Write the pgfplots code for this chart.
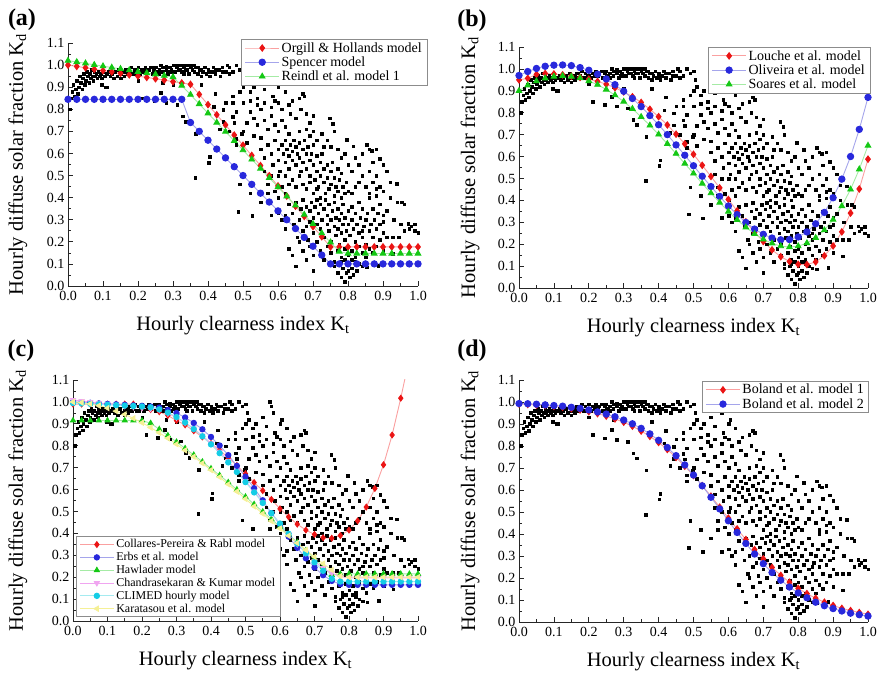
\documentclass[border=0pt]{standalone}
\usepackage{fontspec}
\setmainfont{Liberation Serif}
\usepackage{pgfplots}
\usepackage{pgfplotstable}
\pgfplotsset{compat=1.18}

\definecolor{mred}{RGB}{235,20,20}
\definecolor{mredl}{RGB}{250,160,160}
\definecolor{mblue}{RGB}{40,40,220}
\definecolor{mbluel}{RGB}{165,165,235}
\definecolor{mgreen}{RGB}{20,200,20}
\definecolor{mgreenl}{RGB}{165,235,165}
\definecolor{mmag}{RGB}{215,20,215}
\definecolor{mmagl}{RGB}{240,165,240}
\definecolor{mcyan}{RGB}{20,205,230}
\definecolor{mcyanl}{RGB}{165,235,240}
\definecolor{myel}{RGB}{235,225,0}
\definecolor{myell}{RGB}{245,240,150}

% measured points (same set in all four panels)
\pgfplotstableread[row sep=\\]{
x y\\
0.005 0.80\\0.008 0.85\\0.012 0.88\\0.015 0.91\\0.018 0.86\\0.022 0.89\\0.025 0.93\\0.028 0.87\\0.030 0.90\\0.033 0.95\\
0.036 0.92\\0.040 0.89\\0.042 0.94\\0.045 0.96\\0.048 0.91\\0.050 0.93\\0.053 0.97\\0.056 0.95\\0.060 0.92\\0.062 0.96\\
0.065 0.94\\0.068 0.98\\0.070 0.95\\0.072 0.93\\0.075 0.97\\0.078 0.95\\0.080 0.96\\0.083 0.94\\0.086 0.97\\0.090 0.95\\
0.093 0.96\\0.096 0.94\\0.100 0.97\\0.104 0.95\\0.108 0.90\\0.110 0.96\\0.115 0.97\\0.120 0.95\\0.125 0.96\\0.130 0.94\\
0.135 0.97\\0.140 0.95\\0.145 0.98\\0.150 0.96\\0.155 0.97\\0.160 0.95\\0.165 0.98\\0.170 0.96\\0.175 0.97\\0.180 0.99\\
0.185 0.96\\0.190 0.98\\0.195 0.97\\0.200 0.99\\0.205 0.96\\0.210 0.98\\0.215 0.97\\0.220 0.99\\0.225 0.97\\0.230 0.98\\
0.235 0.99\\0.240 0.96\\0.245 0.98\\0.250 0.99\\0.255 0.97\\0.260 0.98\\0.265 1.00\\0.270 0.97\\0.275 0.99\\0.280 0.98\\
0.285 0.96\\0.290 0.99\\0.295 0.98\\0.300 1.00\\0.305 0.97\\0.310 0.99\\0.315 0.98\\0.320 1.00\\0.325 0.97\\0.330 0.99\\
0.335 0.98\\0.340 1.00\\0.345 0.96\\0.350 0.99\\0.355 0.98\\0.360 0.97\\0.365 0.99\\0.370 0.96\\0.375 0.98\\0.380 0.95\\
0.385 0.97\\0.390 0.99\\0.395 0.96\\0.400 0.98\\0.405 0.95\\0.410 0.97\\0.415 0.99\\0.420 0.96\\0.430 0.98\\0.435 0.95\\
0.440 0.99\\0.450 0.97\\0.455 1.00\\0.460 0.96\\0.160 0.97\\0.190 0.96\\0.220 0.98\\0.250 0.97\\0.270 0.99\\0.300 0.97\\
0.320 0.98\\0.330 0.96\\0.340 0.98\\0.360 1.00\\0.380 0.98\\0.400 0.97\\0.420 0.98\\0.440 0.97\\0.280 0.995\\0.310 1.00\\
0.350 1.00\\0.370 0.99\\0.240 0.99\\0.200 0.97\\0.170 0.98\\0.260 0.96\\0.290 0.97\\0.330 1.00\\
0.097 0.91\\0.112 0.90\\0.150 0.94\\0.200 0.93\\0.212 0.85\\0.246 0.836\\0.265 0.874\\0.270 0.92\\0.280 0.829\\0.300 0.91\\
0.312 0.82\\0.327 0.768\\0.337 0.745\\0.364 0.69\\0.363 0.489\\0.380 0.91\\0.402 0.558\\0.404 0.584\\0.416 0.812\\0.420 0.87\\
0.433 0.71\\0.443 0.743\\0.443 0.797\\0.450 0.83\\0.471 0.766\\0.470 0.86\\0.481 0.668\\0.486 0.337\\0.490 0.46\\0.526 0.319\\
0.497 0.69\\0.500 0.90\\0.580 0.32\\0.600 0.33\\
0.460 0.99\\0.470 0.97\\0.480 1.00\\0.490 0.98\\0.500 0.99\\0.505 0.95\\0.510 0.92\\0.520 0.88\\0.530 0.90\\0.540 0.85\\
0.550 0.93\\0.560 0.89\\0.570 1.00\\0.575 0.98\\0.580 0.95\\0.585 0.86\\0.590 0.84\\0.600 0.83\\0.605 0.92\\0.610 0.80\\
0.620 0.88\\0.630 0.82\\0.635 0.78\\0.640 0.84\\0.650 0.76\\0.660 0.85\\0.665 0.80\\0.670 0.87\\0.675 0.86\\0.680 0.78\\
0.690 0.74\\0.700 0.77\\0.500 0.83\\0.520 0.79\\0.530 0.76\\0.540 0.73\\0.550 0.80\\0.560 0.75\\0.570 0.71\\0.580 0.77\\
0.590 0.73\\0.600 0.70\\0.610 0.75\\0.620 0.72\\0.630 0.69\\0.470 0.83\\0.480 0.79\\0.490 0.88\\0.510 0.74\\0.520 0.84\\
0.540 0.82\\0.560 0.83\\0.580 0.81\\0.600 0.90\\0.475 0.74\\0.500 0.70\\0.530 0.68\\0.550 0.67\\0.510 0.65\\0.460 0.70\\
0.480 0.64\\
0.550 0.62\\0.560 0.58\\0.570 0.64\\0.580 0.60\\0.585 0.55\\0.590 0.66\\0.600 0.62\\0.600 0.57\\0.605 0.52\\0.610 0.64\\
0.615 0.60\\0.620 0.66\\0.620 0.56\\0.625 0.62\\0.630 0.59\\0.630 0.53\\0.635 0.64\\0.640 0.61\\0.640 0.57\\0.645 0.66\\
0.650 0.63\\0.650 0.55\\0.655 0.60\\0.660 0.65\\0.660 0.58\\0.665 0.52\\0.670 0.62\\0.670 0.56\\0.675 0.66\\0.680 0.60\\
0.680 0.53\\0.685 0.63\\0.690 0.57\\0.690 0.50\\0.695 0.60\\0.700 0.64\\0.700 0.55\\0.705 0.48\\0.710 0.59\\0.710 0.52\\
0.715 0.45\\0.720 0.56\\0.720 0.50\\0.725 0.60\\0.730 0.47\\0.730 0.53\\0.735 0.42\\0.740 0.55\\0.740 0.49\\0.745 0.44\\
0.750 0.52\\0.750 0.46\\0.755 0.56\\0.760 0.41\\0.760 0.49\\0.765 0.45\\0.770 0.53\\0.770 0.43\\0.775 0.48\\0.780 0.40\\
0.780 0.51\\0.785 0.45\\0.790 0.42\\0.795 0.47\\0.800 0.43\\0.640 0.48\\0.650 0.45\\0.660 0.50\\0.670 0.46\\0.680 0.44\\
0.690 0.47\\0.700 0.42\\0.710 0.44\\0.720 0.40\\0.620 0.50\\0.630 0.46\\0.610 0.45\\0.600 0.50\\0.580 0.50\\0.570 0.46\\
0.560 0.52\\0.590 0.43\\0.600 0.40\\0.620 0.42\\0.725 0.69\\0.740 0.66\\0.750 0.63\\0.760 0.70\\0.770 0.62\\0.780 0.58\\
0.790 0.60\\0.700 0.70\\0.710 0.66\\0.730 0.63\\0.690 0.68\\0.660 0.70\\0.680 0.71\\0.748 0.76\\0.757 0.735\\0.800 0.55\\
0.810 0.52\\0.820 0.58\\0.550 0.38\\0.570 0.42\\0.520 0.42\\0.620 0.32\\
0.630 0.37\\0.640 0.33\\0.645 0.28\\0.650 0.38\\0.655 0.22\\0.660 0.30\\0.665 0.35\\0.670 0.25\\0.670 0.39\\0.675 0.32\\
0.680 0.27\\0.680 0.36\\0.685 0.21\\0.690 0.34\\0.690 0.29\\0.695 0.38\\0.700 0.31\\0.700 0.24\\0.705 0.36\\0.710 0.28\\
0.710 0.39\\0.715 0.33\\0.720 0.26\\0.720 0.37\\0.725 0.30\\0.730 0.22\\0.730 0.35\\0.735 0.39\\0.740 0.28\\0.740 0.32\\
0.745 0.25\\0.745 0.37\\0.750 0.30\\0.750 0.20\\0.755 0.34\\0.760 0.27\\0.760 0.38\\0.765 0.23\\0.765 0.31\\0.770 0.35\\
0.770 0.26\\0.775 0.19\\0.775 0.30\\0.780 0.33\\0.780 0.24\\0.785 0.28\\0.785 0.37\\0.790 0.21\\0.790 0.31\\0.795 0.25\\
0.800 0.34\\0.800 0.28\\0.800 0.18\\0.805 0.23\\0.810 0.30\\0.810 0.36\\0.815 0.26\\0.820 0.20\\0.820 0.33\\0.825 0.28\\
0.830 0.24\\0.830 0.38\\0.835 0.31\\0.840 0.22\\0.840 0.35\\0.845 0.27\\0.850 0.30\\0.850 0.19\\0.855 0.33\\0.860 0.25\\
0.860 0.40\\0.865 0.28\\0.870 0.22\\0.870 0.35\\0.875 0.30\\0.880 0.26\\0.880 0.41\\0.885 0.33\\0.890 0.21\\0.890 0.37\\
0.900 0.29\\0.900 0.24\\0.610 0.30\\0.620 0.26\\0.630 0.17\\0.640 0.14\\0.650 0.09\\0.660 0.20\\0.670 0.16\\0.680 0.12\\
0.690 0.18\\0.700 0.14\\0.700 0.07\\0.710 0.20\\0.720 0.16\\0.730 0.12\\0.740 0.18\\0.750 0.15\\0.760 0.11\\0.770 0.16\\
0.780 0.13\\0.790 0.17\\0.800 0.14\\0.810 0.16\\0.820 0.13\\0.830 0.18\\0.840 0.15\\0.850 0.13\\0.860 0.17\\0.870 0.15\\
0.880 0.18\\
0.760 0.09\\0.770 0.06\\0.775 0.10\\0.780 0.04\\0.785 0.08\\0.790 0.02\\0.795 0.06\\0.800 0.10\\0.805 0.04\\0.810 0.08\\
0.815 0.05\\0.820 0.11\\0.825 0.07\\0.790 0.12\\0.800 0.07\\0.810 0.12\\0.830 0.10\\0.840 0.09\\0.780 0.11\\
0.796 0.662\\0.815 0.632\\0.853 0.64\\0.867 0.612\\0.840 0.60\\0.830 0.55\\0.860 0.52\\0.870 0.56\\0.880 0.50\\0.891 0.577\\
0.900 0.55\\0.910 0.52\\0.920 0.47\\0.939 0.464\\0.900 0.43\\0.920 0.40\\0.940 0.38\\0.953 0.38\\0.960 0.37\\0.972 0.282\\
0.980 0.27\\0.990 0.28\\1.000 0.24\\0.950 0.28\\0.960 0.25\\0.930 0.30\\0.910 0.34\\0.944 0.22\\0.927 0.22\\0.890 0.45\\
0.870 0.47\\0.850 0.45\\0.840 0.50\\0.830 0.47\\0.860 0.42\\0.880 0.44\\0.820 0.45\\0.810 0.42\\0.910 0.22\\0.900 0.32\\
0.890 0.28\\0.928 0.145\\0.886 0.092\\0.853 0.085\\0.975 0.26\\0.990 0.25\\0.840 0.25\\0.900 0.16\\0.860 0.62\\0.880 0.62\\
}\scat

% model curves, Kt step 0.025
\pgfplotstableread[row sep=\\]{
x oh sp re\\
0 1.000 0.845 1.020\\ 0.025 0.994 0.845 1.014\\ 0.05 0.988 0.845 1.008\\ 0.075 0.981 0.845 1.001\\
0.1 0.975 0.845 0.995\\ 0.125 0.969 0.845 0.989\\ 0.15 0.963 0.845 0.983\\ 0.175 0.956 0.845 0.977\\
0.2 0.950 0.845 0.970\\ 0.225 0.944 0.845 0.964\\ 0.25 0.938 0.845 0.958\\ 0.275 0.932 0.845 0.952\\
0.3 0.925 0.845 0.946\\ 0.325 0.919 0.845 0.907\\ 0.35 0.913 0.740 0.866\\ 0.375 0.867 0.700 0.824\\
0.4 0.821 0.660 0.782\\ 0.425 0.775 0.620 0.740\\ 0.45 0.729 0.580 0.699\\ 0.475 0.683 0.540 0.657\\
0.5 0.637 0.500 0.615\\ 0.525 0.591 0.460 0.573\\ 0.55 0.545 0.420 0.532\\ 0.575 0.499 0.380 0.490\\
0.6 0.453 0.340 0.448\\ 0.625 0.407 0.300 0.406\\ 0.65 0.361 0.260 0.365\\ 0.675 0.315 0.220 0.323\\
0.7 0.269 0.180 0.281\\ 0.725 0.223 0.140 0.239\\ 0.75 0.177 0.100 0.198\\ 0.775 0.177 0.100 0.156\\
0.8 0.177 0.100 0.147\\ 0.825 0.177 0.100 0.147\\ 0.85 0.177 0.100 0.147\\ 0.875 0.177 0.100 0.147\\
0.9 0.177 0.100 0.147\\ 0.925 0.177 0.100 0.147\\ 0.95 0.177 0.100 0.147\\ 0.975 0.177 0.100 0.147\\
1.0 0.177 0.100 0.147\\
}\dataA

\pgfplotstableread[row sep=\\]{
x lo ol so\\
0 0.950 0.970 0.900\\ 0.025 0.957 0.988 0.925\\ 0.05 0.975 1.002 0.944\\ 0.075 0.979 1.012 0.957\\
0.1 0.977 1.017 0.965\\ 0.125 0.973 1.018 0.968\\ 0.15 0.967 1.015 0.965\\ 0.175 0.961 1.006 0.958\\
0.2 0.953 0.994 0.945\\ 0.225 0.943 0.976 0.928\\ 0.25 0.930 0.954 0.906\\ 0.275 0.914 0.928 0.880\\
0.3 0.895 0.898 0.851\\ 0.325 0.873 0.865 0.818\\ 0.35 0.847 0.828 0.781\\ 0.375 0.816 0.787 0.742\\
0.4 0.782 0.745 0.701\\ 0.425 0.744 0.700 0.658\\ 0.45 0.702 0.653 0.613\\ 0.475 0.658 0.606 0.568\\
0.5 0.610 0.558 0.523\\ 0.525 0.560 0.510 0.477\\ 0.55 0.509 0.463 0.433\\ 0.575 0.457 0.418 0.390\\
0.6 0.404 0.374 0.349\\ 0.625 0.352 0.335 0.311\\ 0.65 0.302 0.299 0.277\\ 0.675 0.255 0.269 0.247\\
0.7 0.212 0.245 0.222\\ 0.725 0.174 0.228 0.204\\ 0.75 0.143 0.220 0.191\\ 0.775 0.121 0.221 0.187\\
0.8 0.108 0.233 0.191\\ 0.825 0.107 0.256 0.205\\ 0.85 0.119 0.293 0.229\\ 0.875 0.147 0.345 0.264\\
0.9 0.192 0.412 0.312\\ 0.925 0.256 0.497 0.374\\ 0.95 0.342 0.600 0.450\\ 0.975 0.452 0.724 0.542\\
1.0 0.588 0.870 0.650\\
}\dataB

\pgfplotstableread[row sep=\\]{
x cp er ha ch cl ka\\
0 0.990 1.000 0.915 1.009 0.995 1.000\\ 0.025 0.990 0.998 0.915 1.004 0.993 0.997\\
0.05 0.990 0.996 0.915 1.000 0.991 0.991\\ 0.075 0.990 0.993 0.915 0.995 0.989 0.983\\
0.1 0.990 0.991 0.915 0.991 0.987 0.972\\ 0.125 0.990 0.989 0.915 0.986 0.985 0.958\\
0.15 0.990 0.987 0.915 0.982 0.983 0.943\\ 0.175 0.990 0.984 0.915 0.977 0.981 0.925\\
0.2 0.975 0.982 0.915 0.973 0.979 0.905\\ 0.225 0.965 0.979 0.903 0.969 0.975 0.883\\
0.25 0.955 0.974 0.875 0.964 0.966 0.859\\ 0.275 0.938 0.963 0.847 0.948 0.951 0.834\\
0.3 0.915 0.949 0.817 0.929 0.931 0.807\\ 0.325 0.895 0.929 0.788 0.905 0.906 0.779\\
0.35 0.868 0.904 0.758 0.878 0.876 0.750\\ 0.375 0.840 0.875 0.727 0.846 0.843 0.720\\
0.4 0.810 0.840 0.696 0.811 0.806 0.689\\ 0.425 0.780 0.801 0.665 0.773 0.766 0.657\\
0.45 0.745 0.757 0.633 0.730 0.724 0.624\\ 0.475 0.710 0.708 0.600 0.685 0.680 0.591\\
0.5 0.672 0.659 0.567 0.639 0.634 0.557\\ 0.525 0.632 0.606 0.533 0.591 0.587 0.523\\
0.55 0.595 0.551 0.499 0.542 0.539 0.490\\ 0.575 0.555 0.492 0.465 0.493 0.492 0.456\\
0.6 0.512 0.440 0.430 0.444 0.445 0.422\\ 0.625 0.475 0.385 0.395 0.396 0.398 0.389\\
0.65 0.442 0.334 0.359 0.351 0.353 0.356\\ 0.675 0.415 0.286 0.322 0.310 0.309 0.324\\
0.7 0.395 0.244 0.285 0.273 0.268 0.293\\ 0.725 0.380 0.209 0.248 0.242 0.229 0.262\\
0.75 0.378 0.183 0.210 0.218 0.193 0.233\\ 0.775 0.390 0.168 0.215 0.202 0.180 0.205\\
0.8 0.415 0.165 0.215 0.197 0.180 0.200\\ 0.825 0.457 0.165 0.215 0.197 0.180 0.200\\
0.85 0.520 0.165 0.215 0.197 0.180 0.200\\ 0.875 0.605 0.165 0.215 0.197 0.180 0.200\\
0.9 0.713 0.165 0.215 0.197 0.180 0.200\\ 0.925 0.849 0.165 0.215 0.197 0.180 0.200\\
0.95 1.017 0.165 0.215 0.197 0.180 0.200\\ 0.975 1.200 0.165 0.215 0.197 0.180 0.200\\
1.0 nan 0.165 0.215 0.197 0.180 0.200\\
}\dataC

\pgfplotstableread[row sep=\\]{
x ba bb\\
0 0.991 0.993\\ 0.025 0.989 0.992\\ 0.05 0.986 0.990\\ 0.075 0.984 0.987\\
0.1 0.980 0.984\\ 0.125 0.976 0.981\\ 0.15 0.970 0.976\\ 0.175 0.964 0.971\\
0.2 0.956 0.964\\ 0.225 0.947 0.955\\ 0.25 0.936 0.945\\ 0.275 0.923 0.933\\
0.3 0.908 0.918\\ 0.325 0.890 0.901\\ 0.35 0.868 0.880\\ 0.375 0.844 0.855\\
0.4 0.816 0.826\\ 0.425 0.784 0.793\\ 0.45 0.748 0.756\\ 0.475 0.708 0.714\\
0.5 0.666 0.668\\ 0.525 0.620 0.619\\ 0.55 0.572 0.567\\ 0.575 0.522 0.514\\
0.6 0.472 0.460\\ 0.625 0.423 0.407\\ 0.65 0.375 0.357\\ 0.675 0.329 0.309\\
0.7 0.287 0.265\\ 0.725 0.248 0.225\\ 0.75 0.212 0.190\\ 0.775 0.181 0.159\\
0.8 0.153 0.132\\ 0.825 0.129 0.110\\ 0.85 0.108 0.090\\ 0.875 0.090 0.074\\
0.9 0.075 0.061\\ 0.925 0.062 0.050\\ 0.95 0.052 0.040\\ 0.975 0.043 0.033\\
1.0 0.035 0.027\\
}\dataD

\pgfplotsset{
  panel/.style={
    scale only axis,
    xmin=0, xmax=1, ymin=0, ymax=1.1,
    axis x line*=bottom, axis y line*=left,
    axis line style={line width=0.8pt, black!85},
    xtick={0,0.1,0.2,0.3,0.4,0.5,0.6,0.7,0.8,0.9,1.0},
    ytick={0,0.1,0.2,0.3,0.4,0.5,0.6,0.7,0.8,0.9,1.0,1.1},
    minor tick num=1,
    tick align=inside,
    major tick length=5pt, minor tick length=3pt,
    tick style={black!85, line width=0.7pt},
    /pgf/number format/assume math mode=true,
    ticklabel style={font=\fontsize{14}{16}\selectfont},
    xticklabel style={yshift=-2pt,/pgf/number format/fixed,/pgf/number format/fixed zerofill,/pgf/number format/precision=1},
    yticklabel style={/pgf/number format/fixed,/pgf/number format/fixed zerofill,/pgf/number format/precision=1},
    xlabel={Hourly clearness index K\textsubscript{t}},
    ylabel={Hourly diffuse solar fraction K\textsubscript{d}},
    label style={font=\fontsize{20.5}{23}\selectfont},
    xlabel style={at={(axis description cs:0.5,-0.125)}, anchor=north, inner sep=0pt},
    legend cell align=left,
    legend style={font=\fontsize{14}{16}\selectfont, draw=black!45, line width=0.6pt,
      fill=white, inner xsep=3pt, inner ysep=1pt, row sep=-1pt},
    legend image code/.code={\draw[mark repeat=2,mark phase=2] plot coordinates {(0pt,0pt)(17pt,0pt)(34pt,0pt)};},
  },
  cur/.style n args={3}{#1, line width=0.9pt, mark=#3, mark size=3.2pt, mark options={draw=#2, fill=#2, solid}},
}

\begin{document}
\begin{tikzpicture}
\useasboundingbox (0pt,0pt) rectangle (881pt,685pt);

% (a)
\begin{axis}[panel, at={(68pt,399pt)}, width=350pt, height=243pt,
  ylabel style={at={(axis description cs:-0.143,0.5)}, anchor=center, inner sep=0pt},
  legend style={at={(1.026,1.016)}, anchor=north east}]
\addplot[only marks, mark=square*, mark size=1.3pt, black, forget plot] table {\scat};
\addplot[cur={mredl}{mred}{diamond*}] table[x=x,y=oh] {\dataA};
\addplot[cur={mbluel}{mblue}{*}] table[x=x,y=sp] {\dataA};
\addplot[cur={mgreenl}{mgreen}{triangle*}] table[x=x,y=re] {\dataA};
\legend{Orgill \& Hollands model, Spencer model, Reindl et al. model 1}
\end{axis}

% (b)
\begin{axis}[panel, at={(519pt,397pt)}, width=349pt, height=241pt,
  ylabel style={at={(axis description cs:-0.14,0.5)}, anchor=center, inner sep=0pt},
  legend style={at={(1.006,1.0)}, anchor=north east}]
\addplot[only marks, mark=square*, mark size=1.3pt, black, forget plot] table {\scat};
\addplot[cur={mredl}{mred}{diamond*}] table[x=x,y=lo] {\dataB};
\addplot[cur={mbluel}{mblue}{*}] table[x=x,y=ol] {\dataB};
\addplot[cur={mgreenl}{mgreen}{triangle*}] table[x=x,y=so] {\dataB};
\legend{Louche et al. model, Oliveira et al. model, Soares et al. model}
\end{axis}

% (c)
\begin{axis}[panel, at={(73pt,64pt)}, width=345pt, height=241pt,
  ylabel style={at={(axis description cs:-0.16,0.5)}, anchor=center, inner sep=0pt},
  legend style={at={(0.009,0.017)}, anchor=south west, font=\fontsize{12}{13}\selectfont}]
\addplot[only marks, mark=square*, mark size=1.3pt, black, forget plot] table {\scat};
\addplot[cur={mredl}{mred}{diamond*}, mark size=2.9pt] table[x=x,y=cp] {\dataC};
\addplot[cur={mbluel}{mblue}{*}, mark size=2.7pt] table[x=x,y=er] {\dataC};
\addplot[cur={mgreenl}{mgreen}{triangle*}, mark size=2.9pt] table[x=x,y=ha] {\dataC};
\addplot[cur={mmagl}{mmag}{triangle*}, mark size=2.9pt, mark options={rotate=180}] table[x=x,y=ch] {\dataC};
\addplot[cur={mcyanl}{mcyan}{*}, mark size=2.7pt] table[x=x,y=cl] {\dataC};
\addplot[cur={myell}{myel}{triangle*}, mark size=2.9pt, mark options={rotate=90}] table[x=x,y=ka] {\dataC};
\legend{Collares-Pereira \& Rabl model, Erbs et al. model, Hawlader model, Chandrasekaran \& Kumar model, CLIMED hourly model, Karatasou et al. model}
\end{axis}

% (d)
\begin{axis}[panel, at={(519pt,63pt)}, width=349pt, height=242pt,
  ylabel style={at={(axis description cs:-0.14,0.5)}, anchor=center, inner sep=0pt},
  legend style={at={(1.003,0.996)}, anchor=north east}]
\addplot[only marks, mark=square*, mark size=1.3pt, black, forget plot] table {\scat};
\addplot[cur={mredl}{mred}{diamond*}] table[x=x,y=ba] {\dataD};
\addplot[cur={mbluel}{mblue}{*}] table[x=x,y=bb] {\dataD};
\legend{Boland et al. model 1, Boland et al. model 2}
\end{axis}

\node[font=\bfseries\fontsize{24}{24}\selectfont] at (22pt,665pt) {(a)};
\node[font=\bfseries\fontsize{24}{24}\selectfont] at (472pt,664pt) {(b)};
\node[font=\bfseries\fontsize{24}{24}\selectfont] at (21pt,334pt) {(c)};
\node[font=\bfseries\fontsize{24}{24}\selectfont] at (472pt,334pt) {(d)};
\end{tikzpicture}
\end{document}
